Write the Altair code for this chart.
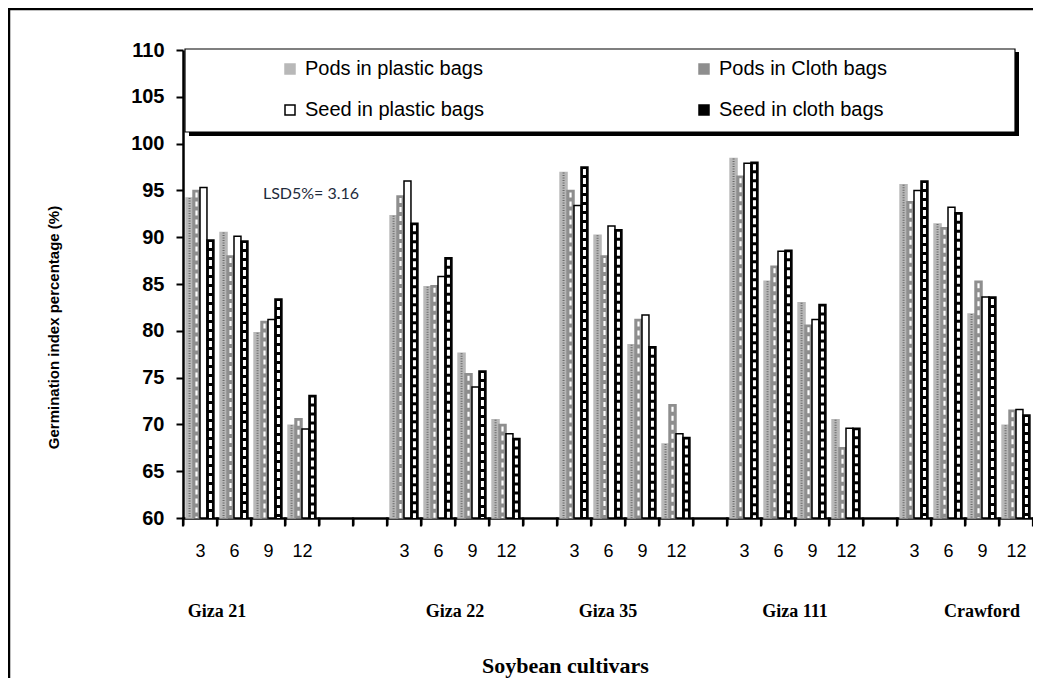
import altair as alt
import pandas as pd

# ---------------- data ----------------
cultivars = ["Giza 21", "Giza 22", "Giza 35", "Giza 111", "Crawford"]
months = ["3", "6", "9", "12"]
series = ["Pods in plastic bags", "Pods in Cloth bags", "Seed in plastic bags", "Seed in cloth bags"]

pods_plastic = [94.2, 90.5, 79.8, 69.9, 92.3, 84.7, 77.6, 70.5, 96.9, 90.2, 78.5, 67.9,
                98.4, 85.3, 83.0, 70.5, 95.6, 91.4, 81.8, 69.9]
pods_cloth = [95.0, 88.0, 81.0, 70.6, 94.4, 84.8, 75.4, 70.0, 95.0, 88.0, 81.2, 72.1,
              96.5, 86.9, 80.6, 67.5, 93.8, 91.0, 85.3, 71.5]
seed_plastic = [95.3, 90.1, 81.2, 69.5, 96.0, 85.8, 74.0, 69.0, 93.4, 91.2, 81.7, 69.0,
                97.9, 88.5, 81.2, 69.6, 95.0, 93.2, 83.6, 71.6]
seed_cloth = [89.7, 89.6, 83.4, 73.1, 91.5, 87.8, 75.7, 68.5, 97.5, 90.8, 78.3, 68.6,
              98.0, 88.6, 82.8, 69.6, 96.0, 92.6, 83.6, 71.0]

y_ticks = [60, 65, 70, 75, 80, 85, 90, 95, 100, 105, 110]
lsd_text = "LSD5%= 3.16"
lsd_slot = "Giza 21|12"
lsd_y = 94.6

# empty category slots after each cultivar group (layout of the original axis)
gaps_after = [2, 1, 1, 1, 0]
# cultivar caption anchor slot, and whether it sits at slot edge or slot middle
name_anchor_slot = ["Giza 21|6", "Giza 22|9", "Giza 35|6", "Giza 111|9", "Crawford|9"]
name_anchor_at = ["edge", "edge", "mid", "edge", "mid"]

# ---------------- tables ----------------
slot_order = []
for i, c in enumerate(cultivars):
    for m in months:
        slot_order.append(f"{c}|{m}")
    for g in range(gaps_after[i]):
        slot_order.append(f"gap{i}{g}|")

rows = []
for s, vals in zip(series, [pods_plastic, pods_cloth, seed_plastic, seed_cloth]):
    for i, c in enumerate(cultivars):
        for j, m in enumerate(months):
            rows.append({"slot": f"{c}|{m}", "series": s, "value": vals[i * 4 + j]})
df = pd.DataFrame(rows)

names_df = pd.DataFrame({"cultivar": cultivars, "anchor": name_anchor_slot, "at": name_anchor_at})
lsd_df = pd.DataFrame({"slot": [lsd_slot], "value": [lsd_y], "t": [lsd_text]})
slots_df = pd.DataFrame({"slot": slot_order})
one = pd.DataFrame({"k": [0]})

# ---------------- scales / axes ----------------
W, H = 850, 468
xscale = alt.Scale(domain=slot_order, paddingInner=0, paddingOuter=0)
offscale = alt.Scale(domain=series, paddingInner=0, paddingOuter=0.44)
yscale = alt.Scale(domain=[60, 110], zero=False, nice=False)

x_axis = alt.Axis(
    title="Soybean cultivars", tickBand="extent", ticks=True,
    labelExpr="split(datum.label, '|')[1]", labelAngle=0, labelOverlap=False,
    labelFont="Liberation Sans", labelFontSize=18, labelColor="black", labelPadding=17,
    tickSize=7, tickWidth=2, tickColor="black", tickOpacity=1,
    domainColor="black", domainWidth=2.5,
    titleFont="Liberation Serif", titleFontSize=22, titleFontWeight="bold", titleColor="black",
    titleX=382, titleY=147, titleBaseline="middle",
)
y_axis = alt.Axis(
    title="Germination index percentage (%)", values=y_ticks, grid=False,
    labelFont="Liberation Sans", labelFontWeight="bold", labelFontSize=20, labelColor="black",
    labelPadding=12, tickSize=7, tickWidth=2, tickColor="black",
    domainColor="black", domainWidth=2.5,
    titleFont="Liberation Sans", titleFontSize=15, titleFontWeight="bold", titleColor="black",
    titleX=-130, titleY=277, titleBaseline="middle", titleAngle=270, zindex=1,
)

fill_scale = alt.Scale(domain=series, range=["#b8b8b8", "#8e8e8e", "#ffffff", "#000000"])
stroke_scale = alt.Scale(domain=series, range=["#b8b8b8", "#8e8e8e", "#000000", "#000000"])
legend = alt.Legend(
    title=None, orient="none", legendX=97, legendY=9, columns=2, columnPadding=209,
    direction="horizontal",
    rowPadding=21, symbolType="square", symbolSize=100, symbolStrokeWidth=1.5,
    labelFont="Liberation Sans", labelFontSize=20, labelColor="black", labelOffset=5,
    padding=0, labelLimit=400,
)

X = alt.X("slot:N", scale=xscale, axis=x_axis, sort=slot_order)
Y = alt.Y("value:Q", scale=yscale, axis=y_axis)

bars = alt.Chart(df).mark_bar(strokeWidth=1.5).encode(
    x=X,
    xOffset=alt.XOffset("series:N", scale=offscale, sort=series),
    y=Y,
    y2=alt.datum(60),
    fill=alt.Fill("series:N", scale=fill_scale, legend=legend, sort=series),
    stroke=alt.Stroke("series:N", scale=stroke_scale, legend=legend, sort=series),
)


def overlay(name, color, width, dash, offset):
    return alt.Chart(df).transform_filter(alt.datum.series == name).mark_rule(
        color=color, strokeWidth=width, strokeDash=dash, strokeDashOffset=offset
    ).encode(
        x=X,
        xOffset=alt.XOffset("series:N", scale=offscale, sort=series),
        y=Y,
        y2=alt.datum(60),
    )


ov_pp = overlay(series[0], "#6a6a6a", 2, [1, 1.5], 0)
ov_pc = overlay(series[1], "#ffffff", 2.2, [5, 4], 7)
ov_sc = overlay(series[3], "#ffffff", 3, [6, 3], 7)


# category-boundary tick marks below the x axis line
def boundary_ticks(data, band):
    return alt.Chart(data).mark_tick(
        color="black", orient="vertical", thickness=2.2, size=9, opacity=1
    ).encode(
        x=alt.X("slot:N", scale=xscale, axis=x_axis, bandPosition=band, sort=slot_order),
        y=alt.value(H + 4),
    )


ticks_start = boundary_ticks(slots_df, 0)
ticks_end = boundary_ticks(slots_df.tail(1), 1)

frame = alt.Chart(one).mark_rect(fill="transparent", stroke="black", strokeWidth=2.5).encode(
    x=alt.value(-174), x2=alt.value(W + 300), y=alt.value(-41), y2=alt.value(H + 400)
)
shadow = alt.Chart(one).mark_rect(fill="black").encode(
    x=alt.value(6), x2=alt.value(836), y=alt.value(2), y2=alt.value(86)
)
box = alt.Chart(one).mark_rect(fill="white", stroke="black", strokeWidth=1.2).encode(
    x=alt.value(2), x2=alt.value(832), y=alt.value(-1), y2=alt.value(82)
)


def names(at, band):
    return alt.Chart(names_df).transform_filter(alt.datum.at == at).mark_text(
        font="Liberation Serif", fontSize=18, fontWeight="bold", color="black", baseline="middle"
    ).encode(
        x=alt.X("anchor:N", scale=xscale, axis=x_axis, bandPosition=band, sort=slot_order),
        y=alt.value(H + 94),
        text="cultivar:N",
    )


lsd = alt.Chart(lsd_df).mark_text(font="Lato", fontSize=16, color="#1e2b3c", dx=9).encode(
    x=X,
    y=Y,
    text="t:N",
)

chart = alt.layer(
    frame, shadow, box, bars, ov_pp, ov_pc, ov_sc, ticks_start, ticks_end,
    names("edge", 0), names("mid", 0.5), lsd
).properties(
    width=W, height=H,
    autosize=alt.AutoSizeParams(type="none"),
    padding={"left": 175, "top": 42, "right": 0, "bottom": 160},
).configure_view(strokeWidth=0)

chart.save("out.html", embed_options={"renderer": "svg", "actions": False})
